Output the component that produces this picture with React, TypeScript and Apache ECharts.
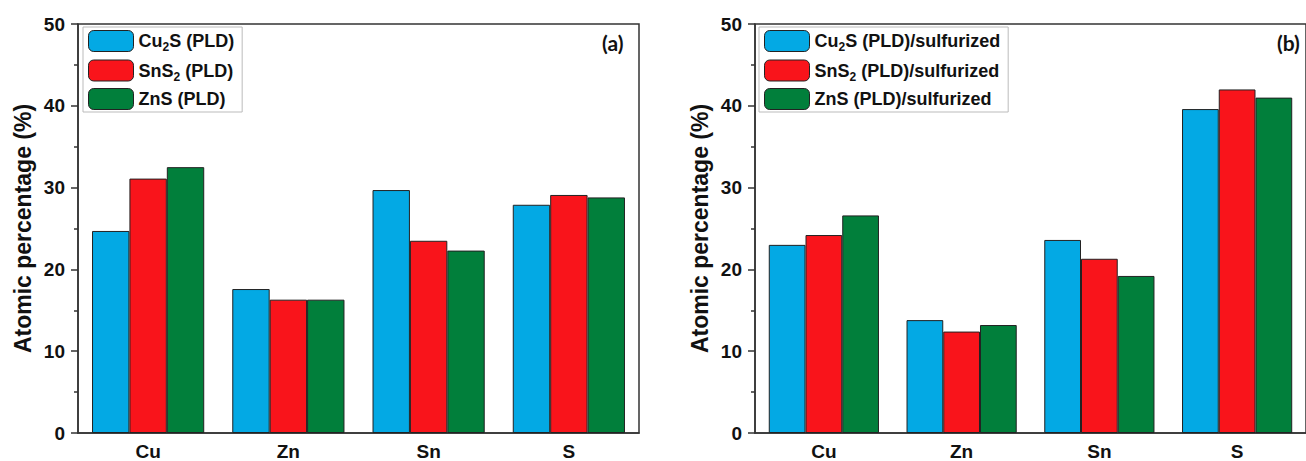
import React, { useEffect, useRef } from 'react';
import * as echarts from 'echarts';

const categories = ['Cu', 'Zn', 'Sn', 'S'];
const leftNames = ['Cu2S (PLD)', 'SnS2 (PLD)', 'ZnS (PLD)'];
const rightNames = ['Cu2S (PLD)/sulfurized', 'SnS2 (PLD)/sulfurized', 'ZnS (PLD)/sulfurized'];
const leftCu2S = [24.7, 17.6, 29.7, 27.9];
const leftSnS2 = [31.1, 16.3, 23.5, 29.1];
const leftZnS = [32.5, 16.3, 22.3, 28.8];
const rightCu2S = [23.0, 13.8, 23.6, 39.6];
const rightSnS2 = [24.2, 12.4, 21.3, 42.0];
const rightZnS = [26.6, 13.2, 19.2, 41.0];
const colors = ['#03A9E4', '#F9141B', '#017F3B'];
const panelLabels = ['(a)', '(b)'];

const FONT = '"Liberation Sans", Arial, sans-serif';

export default function App() {
  const ref = useRef<HTMLDivElement>(null);
  useEffect(() => {
    if (!ref.current) return;
    const chart = echarts.init(ref.current, null, { renderer: 'svg' });
    const grids = [
      { left: 78, top: 24, width: 561, height: 413 },
      { left: 755, top: 24, width: 562, height: 413 },
    ];
    const xAxis = grids.map((_, i) => ({
      type: 'category',
      gridIndex: i,
      data: categories,
      axisLine: { lineStyle: { color: '#333', width: 1.5 } },
      axisTick: { show: false },
      axisLabel: { color: '#111', fontSize: 19, fontWeight: 'bold', fontFamily: FONT, margin: 9 },
    }));
    const yAxis = grids.map((_, i) => ({
      type: 'value',
      gridIndex: i,
      min: 0,
      max: 50,
      interval: 10,
      name: 'Atomic percentage (%)',
      nameLocation: 'middle',
      nameGap: 44,
      nameTextStyle: { color: '#111', fontSize: 23, fontWeight: 'bold', fontFamily: FONT },
      axisLine: { show: true, lineStyle: { color: '#333', width: 1.5 } },
      axisTick: { show: true, inside: false, length: 7, lineStyle: { color: '#333', width: 1.5 } },
      minorTick: { show: true, splitNumber: 2, length: 4, lineStyle: { color: '#333', width: 1.5 } },
      splitLine: { show: false },
      axisLabel: { color: '#111', fontSize: 19, fontWeight: 'bold', fontFamily: FONT, margin: 13 },
    }));
    const mk = (name: string, data: number[], idx: number, ci: number) => ({
      type: 'bar',
      name,
      data,
      xAxisIndex: idx,
      yAxisIndex: idx,
      barGap: '0%',
      barCategoryGap: '20%',
      itemStyle: { color: colors[ci], borderColor: '#222', borderWidth: 1 },
    });
    const legendCommon = {
      orient: 'vertical',
      top: 27,
      itemWidth: 45,
      itemHeight: 21,
      itemGap: 5.5,
      padding: [2, 8, 2, 5],
      borderColor: '#bbb',
      borderWidth: 1,
      backgroundColor: '#fff',
      itemStyle: { borderColor: '#222', borderWidth: 1 },
      formatter: (name: string) => name.replace(/^(Cu|SnS)2/, '$1{sub|2}'),
      textStyle: {
        color: '#111',
        fontSize: 18,
        fontWeight: 'bold',
        fontFamily: FONT,
        lineHeight: 20,
        rich: {
          sub: { fontSize: 12, fontWeight: 'bold', fontFamily: FONT, color: '#111', verticalAlign: 'bottom', lineHeight: 24 },
        },
      },
    };
    chart.setOption({
      animation: false,
      backgroundColor: '#fff',
      grid: grids.map((g) => ({ ...g, show: true, borderColor: '#333', borderWidth: 1.5, backgroundColor: 'transparent' })),
      xAxis,
      yAxis,
      legend: [
        { ...legendCommon, left: 83, data: leftNames },
        { ...legendCommon, left: 759, data: rightNames },
      ],
      series: [
        mk(leftNames[0], leftCu2S, 0, 0),
        mk(leftNames[1], leftSnS2, 0, 1),
        mk(leftNames[2], leftZnS, 0, 2),
        mk(rightNames[0], rightCu2S, 1, 0),
        mk(rightNames[1], rightSnS2, 1, 1),
        mk(rightNames[2], rightZnS, 1, 2),
      ],
      graphic: [
        { type: 'text', x: 602, y: 32, style: { text: panelLabels[0], fill: '#111', font: 'bold 21px Lato, "Liberation Sans", sans-serif' } },
        { type: 'text', x: 1277, y: 32, style: { text: panelLabels[1], fill: '#111', font: 'bold 21px Lato, "Liberation Sans", sans-serif' } },
      ],
    });
    return () => chart.dispose();
  }, []);
  return <div ref={ref} style={{ position: 'fixed', left: 0, top: 0, width: 1306, height: 461 }} />;
}
